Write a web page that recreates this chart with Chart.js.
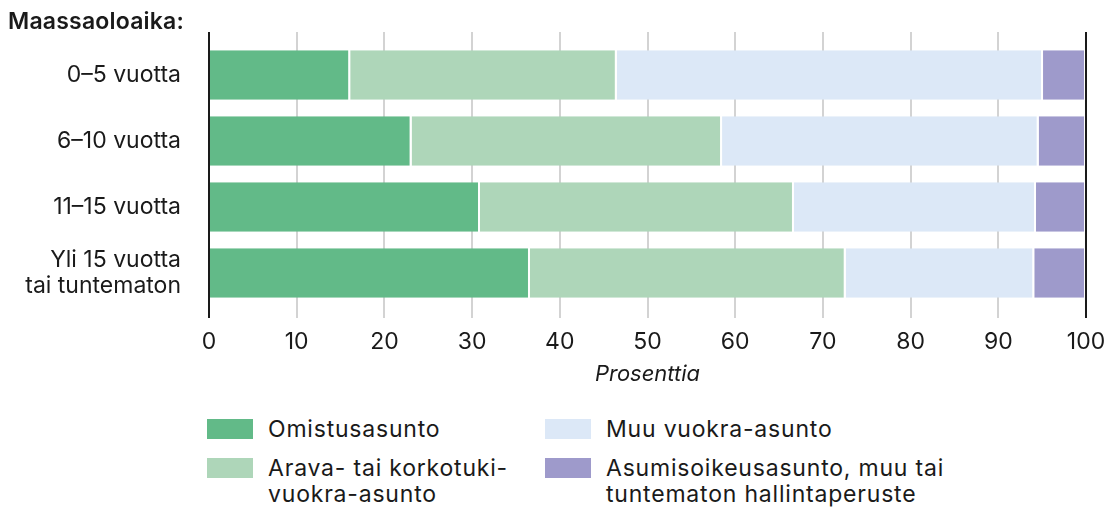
<!DOCTYPE html>
<html>
<head>
<meta charset="utf-8">
<script src="https://cdn.jsdelivr.net/npm/chart.js@4/dist/chart.umd.min.js"></script>
<style>
  body { margin: 0; background: #fff; font-family: Inter, sans-serif; color: #1a1a1a; }
  #wrap { position: relative; width: 1108px; height: 507px; }
  #chartBox { position: absolute; left: 0; top: 0; width: 1108px; height: 388px; }
  #title { position: absolute; left: 8px; top: 7px; font-size: 23px; font-weight: 600; letter-spacing: 0.2px; }
  #legend { position: absolute; left: 207px; top: 416px; display: grid;
            grid-template-columns: 338px 500px; row-gap: 13px; font-size: 23px; line-height: 26px;
            letter-spacing: 0.8px; }
  .item { display: flex; align-items: flex-start; }
  .sw { width: 46px; height: 20px; margin-right: 15px; margin-top: 3px; flex: none; }
</style>
</head>
<body>
<div id="wrap">
  <div id="chartBox"><canvas id="stayChart"></canvas></div>
  <div id="title">Maassaoloaika:</div>
  <div id="legend"></div>
</div>
<script>
// Asunnon hallintaperuste maassaoloajan mukaan (%)
const categories = ['0–5 vuotta', '6–10 vuotta', '11–15 vuotta', ['Yli 15 vuotta', 'tai tuntematon']];
const seriesNames = [
    'Omistusasunto',
    'Arava- tai korkotuki-\nvuokra-asunto',
    'Muu vuokra-asunto',
    'Asumisoikeusasunto, muu tai\ntuntematon hallintaperuste'
];
const omistus = [16.1, 23.1, 30.9, 36.6];
const arava = [30.4, 35.4, 35.8, 36.0];
const muuVuokra = [48.6, 36.1, 27.6, 21.5];
const asumisoikeus = [4.9, 5.4, 5.7, 5.9];
const colors = ['#62ba88', '#aed6b9', '#dce8f7', '#9e9acb'];
const xTicks = [0, 10, 20, 30, 40, 50, 60, 70, 80, 90, 100];

const seriesData = [omistus, arava, muuVuokra, asumisoikeus];

// grid lines reach a bit above the bars and down as ticks;
// 0 and 100 are dark and sit on top of the bars
function strokeGrid(chart, values, color) {
    const x = chart.scales.x;
    const area = chart.chartArea;
    const c = chart.ctx;
    c.save();
    c.strokeStyle = color;
    c.lineWidth = color === '#1a1a1a' ? 2 : 1.5;
    values.forEach(v => {
        const px = Math.round(x.getPixelForValue(v));
        c.beginPath();
        c.moveTo(px, area.top - 10);
        c.lineTo(px, area.bottom + 12);
        c.stroke();
    });
    c.restore();
}
const gridLines = {
    id: 'gridLines',
    beforeDatasetsDraw(chart) {
        strokeGrid(chart, xTicks.filter(v => v > 0 && v < 100), '#c4c4c4');
    },
    afterDatasetsDraw(chart) {
        strokeGrid(chart, [0, 100], '#1a1a1a');
    }
};

const ctx = document.getElementById('stayChart').getContext('2d');
const stayChart = new Chart(ctx, {
    type: 'bar',
    data: {
        labels: categories,
        datasets: seriesData.map((d, i) => ({
            label: seriesNames[i],
            data: d,
            backgroundColor: colors[i],
            borderColor: '#ffffff',
            borderWidth: { left: 0, right: 2, top: 0, bottom: 0 },
            borderSkipped: false,
            barPercentage: 0.75,
            categoryPercentage: 1
        }))
    },
    options: {
        indexAxis: 'y',
        responsive: true,
        maintainAspectRatio: false,
        animation: false,
        layout: { padding: { top: 42, right: 22, left: 0, bottom: 0 } },
        plugins: {
            legend: { display: false },
            tooltip: { enabled: false }
        },
        scales: {
            x: {
                stacked: true,
                min: 0,
                max: 100,
                afterBuildTicks: axis => { axis.ticks = xTicks.map(v => ({ value: v })); },
                afterFit: axis => {
                    axis.height = 82;
                    axis.paddingLeft = 0;
                    axis.paddingRight = 0;
                },
                grid: { display: false, drawTicks: false },
                border: { display: false },
                ticks: {
                    color: '#1a1a1a',
                    font: { family: 'Inter', size: 23 },
                    padding: 22,
                    maxRotation: 0
                },
                title: {
                    display: true,
                    text: 'Prosenttia',
                    color: '#1a1a1a',
                    font: { family: 'Inter', size: 22, style: 'italic' },
                    padding: { top: 0, bottom: 0 }
                }
            },
            y: {
                stacked: true,
                grid: { display: false, drawTicks: false },
                border: { display: false },
                afterFit: axis => {
                    axis.width = 209;
                    axis.paddingTop = 0;
                    axis.paddingBottom = 0;
                },
                ticks: {
                    color: '#1a1a1a',
                    font: { family: 'Inter', size: 23, lineHeight: 1.1 },
                    padding: 28
                }
            }
        }
    },
    plugins: [gridLines]
});

// legend in two columns
const legendEl = document.getElementById('legend');
[0, 2, 1, 3].forEach(i => {
    const item = document.createElement('div');
    item.className = 'item';
    item.innerHTML = '<span class="sw" style="background:' + colors[i] + '"></span><span>' +
        seriesNames[i].replace('\n', '<br>') + '</span>';
    legendEl.appendChild(item);
});
</script>
</body>
</html>
